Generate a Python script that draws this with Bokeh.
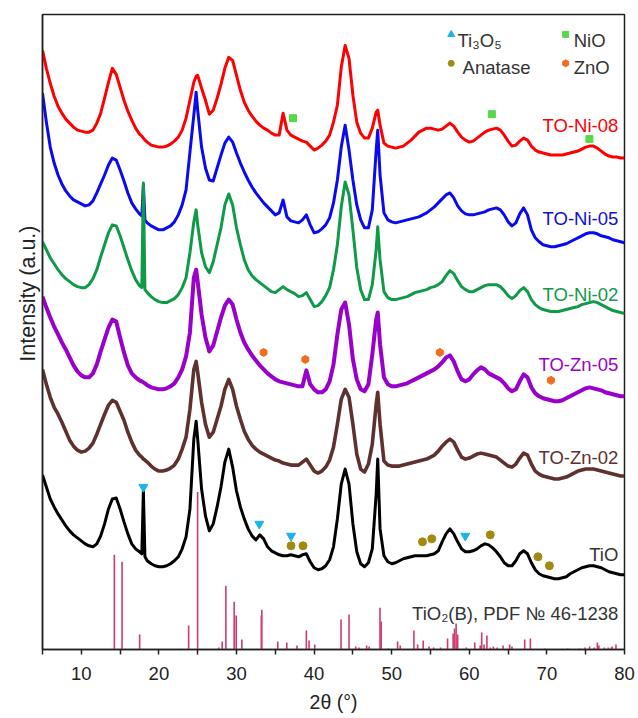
from bokeh.plotting import figure
from bokeh.models import Range1d, FixedTicker, Title, ColumnDataSource
from bokeh.embed import file_html
from bokeh.resources import INLINE
from bokeh.core.properties import value

FONT = "Liberation Sans"

# 2theta sampling grid (degrees): 0.5 deg steps plus a few points at sharp peaks
THETA = sorted([5.0 + 0.5 * i for i in range(151)] + [17.8, 18.2, 24.8, 48.2])

# Intensities (a.u., already vertically stacked as in the figure)
TO_NI_08 = (
    [603, 585, 570, 557, 547, 540, 534, 530, 526, 523]
    + [522, 521, 521, 523, 530, 540, 555, 571, 585, 579]
    + [566, 553, 542, 533, 525, 519, 517, 515, 513, 511, 508, 507]
    + [506, 506, 507, 509, 512, 516, 523, 535, 553, 571, 577]
    + [578, 565, 553, 539, 543, 555, 569, 585, 596, 593]
    + [578, 563, 551, 543, 537, 532, 528, 525, 523, 520]
    + [518, 518, 540, 523, 518, 516, 514, 512, 511, 507]
    + [503, 505, 508, 512, 518, 531, 548, 586, 608, 595]
    + [558, 531, 520, 515, 515, 525, 541, 543, 528, 510, 507]
    + [506, 505, 506, 507, 510, 513, 517, 521, 523, 525]
    + [525, 524, 523, 524, 527, 530, 527, 521, 516, 513]
    + [511, 512, 515, 518, 521, 523, 524, 525, 523, 518]
    + [512, 507, 508, 512, 515, 513, 507, 503, 501, 500]
    + [499, 498, 498, 498, 498, 499, 500, 501, 502, 504]
    + [506, 507, 507, 505, 502, 499, 497, 496, 496, 495]
    + [495]
)
TO_NI_05 = (
    [560, 531, 506, 490, 478, 469, 462, 457, 453, 451]
    + [449, 447, 448, 452, 460, 469, 478, 488, 495, 493]
    + [483, 472, 460, 450, 444, 439, 437, 468, 433, 430, 427, 425]
    + [423, 423, 425, 427, 431, 438, 448, 463, 501, 538, 561]
    + [543, 506, 485, 473, 472, 485, 498, 510, 516, 511]
    + [500, 490, 481, 473, 466, 460, 455, 450, 446, 442]
    + [438, 440, 453, 436, 432, 431, 430, 433, 438, 428]
    + [420, 421, 424, 428, 435, 450, 473, 506, 528, 503]
    + [473, 448, 433, 425, 425, 443, 503, 523, 478, 440, 433]
    + [431, 430, 431, 432, 433, 434, 435, 436, 438, 440]
    + [443, 446, 450, 454, 458, 460, 455, 447, 442, 439]
    + [438, 438, 439, 440, 441, 443, 444, 445, 443, 438]
    + [431, 427, 430, 439, 445, 438, 423, 415, 411, 408]
    + [407, 406, 406, 407, 408, 409, 411, 413, 415, 417]
    + [419, 420, 420, 419, 417, 416, 415, 413, 412, 411]
    + [410]
)
TO_NI_02 = (
    [411, 403, 395, 389, 383, 378, 374, 371, 368, 366]
    + [365, 365, 368, 374, 383, 396, 408, 420, 428, 427]
    + [417, 405, 393, 382, 373, 367, 365, 470, 363, 360, 356, 353]
    + [351, 350, 350, 352, 354, 358, 365, 375, 400, 431, 443]
    + [428, 400, 386, 380, 391, 408, 425, 448, 459, 448]
    + [425, 408, 393, 383, 377, 373, 370, 367, 364, 361]
    + [360, 363, 366, 363, 361, 359, 356, 357, 360, 353]
    + [346, 347, 351, 357, 365, 383, 408, 446, 471, 458]
    + [423, 385, 363, 353, 353, 368, 403, 426, 393, 361, 355]
    + [353, 353, 354, 355, 356, 358, 360, 361, 362, 363]
    + [365, 366, 368, 371, 377, 382, 379, 372, 366, 363]
    + [361, 361, 363, 365, 367, 368, 368, 368, 366, 362]
    + [357, 354, 357, 362, 365, 361, 353, 348, 345, 343]
    + [342, 341, 341, 341, 342, 343, 344, 345, 346, 348]
    + [349, 350, 351, 350, 348, 346, 344, 342, 341, 340]
    + [339]
)
TO_ZN_05 = (
    [356, 345, 335, 326, 318, 310, 303, 295, 287, 281]
    + [277, 275, 275, 279, 288, 301, 313, 325, 333, 331]
    + [315, 300, 287, 279, 275, 272, 271, 270, 269, 267, 265, 264]
    + [263, 263, 264, 266, 269, 275, 283, 296, 320, 375, 383]
    + [371, 338, 315, 301, 307, 321, 335, 347, 353, 348]
    + [333, 320, 310, 303, 297, 292, 287, 283, 279, 276]
    + [273, 271, 270, 269, 268, 267, 266, 266, 282, 268]
    + [263, 260, 260, 263, 271, 288, 318, 343, 350, 328]
    + [293, 273, 263, 261, 268, 298, 333, 340, 308, 275, 268]
    + [266, 266, 267, 268, 269, 271, 273, 275, 277, 279]
    + [281, 283, 286, 290, 295, 297, 291, 281, 273, 271]
    + [273, 278, 282, 285, 283, 279, 277, 275, 273, 269]
    + [264, 261, 263, 271, 278, 275, 265, 259, 256, 254]
    + [253, 252, 251, 251, 252, 254, 256, 258, 260, 262]
    + [264, 265, 264, 263, 262, 260, 259, 258, 257, 256]
    + [256]
)
TO_ZN_02 = (
    [283, 268, 255, 245, 238, 230, 221, 212, 206, 202]
    + [200, 201, 204, 209, 218, 228, 238, 247, 252, 250]
    + [241, 232, 220, 210, 202, 197, 195, 193, 192, 190, 186, 183]
    + [181, 181, 182, 184, 187, 193, 203, 215, 243, 283, 291]
    + [280, 250, 228, 215, 220, 233, 246, 263, 273, 263]
    + [246, 233, 221, 213, 207, 203, 200, 198, 196, 194]
    + [192, 191, 189, 188, 187, 187, 187, 190, 193, 187]
    + [181, 179, 181, 185, 192, 205, 228, 253, 263, 255]
    + [228, 198, 183, 180, 188, 208, 248, 260, 228, 191, 187]
    + [186, 186, 186, 187, 188, 189, 190, 191, 192, 193]
    + [195, 197, 201, 206, 210, 213, 210, 202, 195, 193]
    + [194, 196, 198, 199, 198, 197, 196, 195, 192, 189]
    + [186, 185, 188, 194, 199, 197, 188, 181, 178, 176]
    + [175, 174, 173, 173, 174, 175, 177, 179, 181, 182]
    + [183, 183, 183, 182, 181, 180, 179, 178, 177, 176]
    + [176]
)
TIO = (
    [177, 165, 153, 145, 138, 132, 126, 121, 117, 114]
    + [111, 108, 106, 105, 108, 116, 128, 143, 153, 154]
    + [143, 130, 118, 108, 103, 100, 98, 161, 95, 91, 88, 86]
    + [85, 85, 86, 88, 91, 95, 103, 115, 143, 213, 231]
    + [213, 163, 136, 121, 128, 145, 165, 190, 203, 185]
    + [161, 145, 133, 123, 116, 112, 117, 113, 105, 101]
    + [99, 97, 96, 96, 97, 96, 95, 97, 98, 90]
    + [84, 82, 83, 86, 92, 105, 133, 168, 183, 168]
    + [128, 100, 88, 85, 89, 103, 158, 193, 123, 96, 90]
    + [88, 89, 91, 93, 94, 95, 96, 96, 96, 96]
    + [97, 98, 101, 110, 118, 123, 118, 110, 103, 100]
    + [100, 101, 103, 106, 108, 107, 104, 100, 95, 89]
    + [86, 86, 91, 98, 101, 98, 89, 82, 78, 76]
    + [75, 74, 73, 73, 74, 75, 78, 80, 82, 84]
    + [85, 86, 86, 85, 84, 82, 80, 79, 78, 77]
    + [77]
)

SERIES_NAMES = ["TO-Ni-08", "TO-Ni-05", "TO-Ni-02", "TO-Zn-05", "TO-Zn-02", "TiO"]
SERIES = [TO_NI_08, TO_NI_05, TO_NI_02, TO_ZN_05, TO_ZN_02, TIO]
SERIES_COLORS = ["#FF0000", "#0A0AF0", "#0F9A48", "#9A00CC", "#5E3030", "#000000"]
SERIES_WIDTHS = [3.0, 3.0, 3.0, 4.0, 3.6, 3.0]
LABEL_BASE = [528, 434, 358, 288, 195, 97]
LABEL_COLORS = ["#FF0000", "#1010D0", "#0F9A48", "#9A00CC", "#5E3030", "#333333"]

# TiO2(B) reference pattern, PDF 46-1238: positions (deg) and relative heights
REF_POS = [14.26, 15.25, 17.52, 23.83, 24.99, 27.7, 28.16, 28.63, 29.70, 29.96, 30.69,
           33.2, 33.26, 35.32, 36.48, 37.8, 39.0, 39.35, 40.08, 43.47, 44.5, 45.36,
           45.8, 46.77, 47.1, 48.49, 48.65, 49.55, 50.76, 51.1, 52.86, 53.34, 54.06,
           54.8, 55.4, 56.3, 57.2, 57.92, 58.1, 58.3, 58.5, 59.6, 60.7, 61.4, 61.6,
           61.9, 62.27, 62.7, 63.1, 63.6, 64.35, 65.2, 65.5, 67.14, 67.87, 69.7, 72.7,
           74.2, 74.9, 75.5, 76.1, 76.5, 76.7, 77.4, 77.9, 78.3, 78.4, 78.9]
REF_INT = [95, 88, 15, 24, 158, 2, 8, 64, 48, 34, 10,
           34, 40, 8, 7, 4, 19, 9, 5, 30, 35, 3,
           2, 4, 3, 42, 28, 1, 8, 4, 19, 5, 9,
           3, 2, 2, 11, 16, 21, 26, 15, 2, 7, 4, 17,
           5, 14, 2, 3, 2, 4, 5, 3, 10, 11, 1, 1,
           1, 2, 3, 2, 7, 4, 2, 2, 2, 3, 5]
REF_LABEL = "TiO\u2082(B), PDF \u2116 46-1238"

# Phase markers (position deg, stacked intensity)
TI3O5_X = [18.0, 32.94, 37.03, 59.48]
TI3O5_Y = [165, 128, 116, 116]
ANATASE_X = [37.03, 38.57, 53.97, 55.17, 62.7, 68.85, 70.32]
ANATASE_Y = [106, 106, 110, 113, 117, 95, 86]
NIO_X = [37.28, 62.91, 75.48]
NIO_Y = [535, 539, 514]
ZNO_X = [33.49, 38.87, 56.2, 70.52]
ZNO_Y = [300, 293, 300, 272]

C_TI3O5 = "#1AB4EA"
C_ANATASE = "#A08A12"
C_NIO = "#55D84A"
C_ZNO = "#F26C1E"
REF_COLOR = "#D03A70"

Y_MIN, Y_MAX = 2, 639

p = figure(width=638, height=718, x_range=Range1d(5, 80), y_range=Range1d(Y_MIN, Y_MAX),
           output_backend="svg", toolbar_location=None,
           min_border_left=42, min_border_right=14, min_border_top=14, min_border_bottom=67)
p.xgrid.visible = False
p.ygrid.visible = False
p.background_fill_color = "white"
p.border_fill_color = "white"
p.outline_line_color = "#222222"
p.outline_line_width = 1.5

xa = p.xaxis[0]
xa.ticker = FixedTicker(ticks=[10, 20, 30, 40, 50, 60, 70, 80],
                        minor_ticks=[5, 15, 25, 35, 45, 55, 65, 75])
xa.major_tick_out = 5
xa.major_tick_in = 0
xa.minor_tick_out = 5
xa.minor_tick_in = 0
xa.major_tick_line_color = "#222222"
xa.minor_tick_line_color = "#222222"
xa.major_tick_line_width = 1.5
xa.minor_tick_line_width = 1.5
xa.axis_line_color = "#222222"
xa.axis_line_width = 1.5
xa.major_label_text_font = FONT
xa.major_label_text_font_size = "18.5px"
xa.major_label_text_color = "#222222"
xa.major_label_standoff = 12

ya = p.yaxis[0]
ya.ticker = FixedTicker(ticks=[])
ya.major_tick_line_color = None
ya.minor_tick_line_color = None
ya.major_label_standoff = 0
ya.axis_line_color = "#222222"
ya.axis_line_width = 1.5

p.add_layout(Title(text="Intensity (a.u.)", align="right", offset=211, standoff=6,
                   text_font=FONT, text_font_size="21.5px", text_font_style="normal",
                   text_color="#222222"), "left")
p.add_layout(Title(text="2\u03b8 (\u00b0)", align="center", standoff=12, vertical_align="bottom",
                   text_font=FONT, text_font_size="19.5px", text_font_style="normal",
                   text_color="#222222"), "below")

# reference stick pattern
p.segment(x0=REF_POS, y0=[Y_MIN] * len(REF_POS), x1=REF_POS,
          y1=[Y_MIN + h for h in REF_INT], line_color=REF_COLOR, line_width=1.6)

# curves
for ys, c, w in zip(SERIES, SERIES_COLORS, SERIES_WIDTHS):
    assert len(ys) == len(THETA)
    p.line(THETA, ys, line_color=c, line_width=w, line_join="round")

# curve labels
lab = ColumnDataSource(dict(x=[79.2] * len(SERIES_NAMES), y=LABEL_BASE,
                            t=SERIES_NAMES, c=LABEL_COLORS))
p.text(x="x", y="y", text="t", text_color="c", source=lab, text_font=value(FONT),
       text_font_size="18.5px", text_align="right", text_baseline="alphabetic")
p.text(x=[79.2], y=[38], text=[REF_LABEL], text_color="#333333", text_font=value(FONT),
       text_font_size="18.5px", text_align="right", text_baseline="alphabetic")

# phase markers
p.scatter(TI3O5_X, TI3O5_Y, marker="inverted_triangle", size=9, fill_color=C_TI3O5, line_color=C_TI3O5)
p.scatter(ANATASE_X, ANATASE_Y, marker="circle", size=8, fill_color=C_ANATASE, line_color=C_ANATASE)
p.scatter(NIO_X, NIO_Y, marker="square", size=7, fill_color=C_NIO, line_color=C_NIO)
p.scatter(ZNO_X, ZNO_Y, marker="hex", size=8, angle=0.5236, fill_color=C_ZNO, line_color=C_ZNO)

# legend (drawn in data space, top right)
LEG_MARK_X = [57.67, 57.67, 72.42, 72.42]
LEG_MARK_Y = [619, 590, 619, 590]
LEG_MARKERS = ["triangle", "circle", "square", "hex"]
LEG_COLORS = [C_TI3O5, C_ANATASE, C_NIO, C_ZNO]
LEG_SIZES = [7, 6, 6, 7]
LEG_TEXT = ["Ti\u2083O\u2085", "Anatase", "NiO", "ZnO"]
LEG_TEXT_X = [58.48, 59.13, 73.45, 73.45]
LEG_TEXT_Y = [613, 586, 613, 586]
for mx, my, mk, mc, ms in zip(LEG_MARK_X, LEG_MARK_Y, LEG_MARKERS, LEG_COLORS, LEG_SIZES):
    p.scatter([mx], [my], marker=mk, size=ms, fill_color=mc, line_color=mc,
              angle=0.5236 if mk == "hex" else 0)
p.text(x=LEG_TEXT_X, y=LEG_TEXT_Y, text=LEG_TEXT, text_color="#333333", text_font=value(FONT),
       text_font_size="18.5px", text_align="left", text_baseline="alphabetic")

open("out.html", "w").write(file_html(p, INLINE))
